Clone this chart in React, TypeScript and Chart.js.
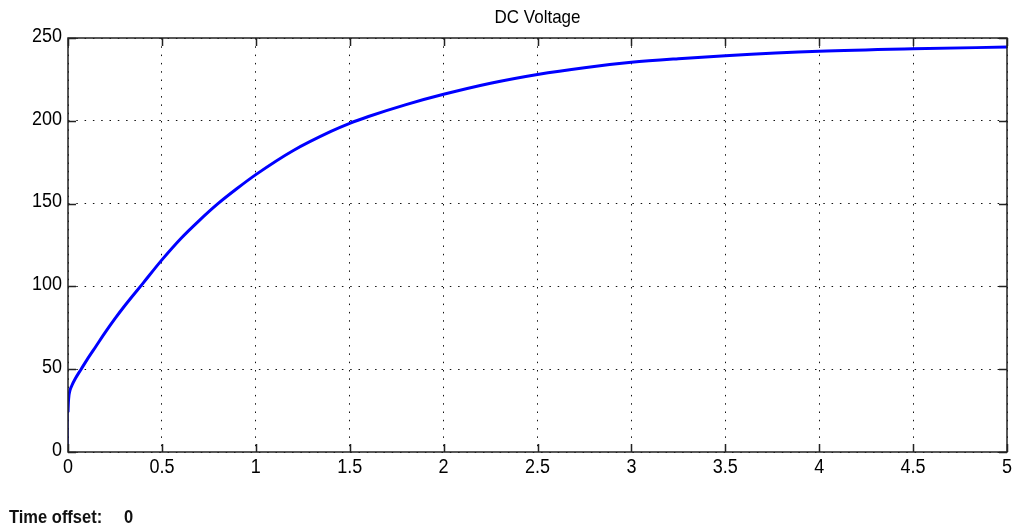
import React, { useEffect, useRef } from "react";
import { Chart, registerables } from "chart.js";

Chart.register(...registerables);

const chartTitle = "DC Voltage";
const footerLabel = "Time offset:";
const footerValue = "0";

const xTicks = [0, 0.5, 1, 1.5, 2, 2.5, 3, 3.5, 4, 4.5, 5];
const xTickLabels = ["0", "0.5", "1", "1.5", "2", "2.5", "3", "3.5", "4", "4.5", "5"];
const yTicks = [0, 50, 100, 150, 200, 250];
const yTickLabels = ["0", "50", "100", "150", "200", "250"];

// initial jump at t = 0
const jumpTime = [0, 0];
const jumpVoltage = [0, 24];

// main charging curve
const time = [0, 0.002, 0.005, 0.01, 0.02, 0.04, 0.07, 0.1, 0.15, 0.2, 0.25, 0.3, 0.4, 0.5, 0.6, 0.7, 0.8, 0.9, 1.0, 1.2, 1.4, 1.5, 1.6, 1.8, 2.0, 2.25, 2.5, 2.75, 3.0, 3.25, 3.5, 4.0, 4.5, 5.0];
const voltage = [24, 30, 34, 37, 40, 44.5, 50, 55.5, 64, 72.5, 80.5, 88, 102, 116, 128.8, 139.9, 150.1, 159.1, 167.5, 182.1, 193.6, 198.5, 202.6, 209.8, 216, 222.7, 228, 232.1, 235.3, 237.5, 239.3, 242, 243.5, 244.5];

const FONT = "Arial, 'Liberation Sans', sans-serif";

function drawText(ctx: any, text: string, x: number, y: number, align: string, font: string, sy: number) {
  ctx.save();
  ctx.translate(x, y);
  ctx.scale(1, sy);
  ctx.font = font;
  ctx.textAlign = align;
  ctx.textBaseline = "middle";
  ctx.fillText(text, 0, 0);
  ctx.restore();
}

const framePlugin = {
  id: "frame",
  afterDraw(chart: any) {
    const { ctx, chartArea: a, scales } = chart;
    ctx.save();
    ctx.strokeStyle = "#222";
    ctx.lineWidth = 1.5;
    ctx.strokeRect(a.left, a.top, a.right - a.left, a.bottom - a.top);
    const tl = 8;
    ctx.beginPath();
    for (const v of xTicks) {
      const x = Math.round(scales.x.getPixelForValue(v)) + 0.5;
      ctx.moveTo(x, a.bottom);
      ctx.lineTo(x, a.bottom - tl);
      ctx.moveTo(x, a.top);
      ctx.lineTo(x, a.top + tl);
    }
    for (const v of yTicks) {
      const y = Math.round(scales.y.getPixelForValue(v)) + 0.5;
      ctx.moveTo(a.left, y);
      ctx.lineTo(a.left + tl, y);
      ctx.moveTo(a.right, y);
      ctx.lineTo(a.right - tl, y);
    }
    ctx.stroke();
    ctx.fillStyle = "#000";
    const tickFont = `18px ${FONT}`;
    xTicks.forEach((v, i) => {
      drawText(ctx, xTickLabels[i], scales.x.getPixelForValue(v), a.bottom + 15.5, "center", tickFont, 1.08);
    });
    yTicks.forEach((v, i) => {
      drawText(ctx, yTickLabels[i], a.left - 6, scales.y.getPixelForValue(v) - 1.5, "right", tickFont, 1.08);
    });
    drawText(ctx, chartTitle, (a.left + a.right) / 2, 18, "center", `17px ${FONT}`, 1.08);
    ctx.fillStyle = "#111";
    drawText(ctx, footerLabel, 9, 518, "left", `bold 16.5px ${FONT}`, 1.1);
    drawText(ctx, footerValue, 124, 518, "left", `bold 16.5px ${FONT}`, 1.1);
    ctx.restore();
  },
};

export default function App() {
  const ref = useRef<HTMLCanvasElement | null>(null);
  useEffect(() => {
    if (!ref.current) return;
    const chart = new Chart(ref.current, {
      type: "line",
      data: {
        datasets: [
          {
            data: jumpTime.map((t, i) => ({ x: t, y: jumpVoltage[i] })),
            borderColor: "#0000ff",
            borderWidth: 1.5,
            pointRadius: 0,
          },
          {
            data: time.map((t, i) => ({ x: t, y: voltage[i] })),
            borderColor: "#0000ff",
            borderWidth: 3,
            pointRadius: 0,
            cubicInterpolationMode: "monotone",
          },
        ],
      },
      options: {
        animation: false,
        responsive: false,
        devicePixelRatio: 1,
        layout: { padding: { top: 38, right: 11, left: 0, bottom: 0 } },
        plugins: { legend: { display: false }, title: { display: false }, tooltip: { enabled: false } },
        scales: {
          x: {
            type: "linear",
            min: 0,
            max: 5,
            afterFit: (s: any) => { s.height = 77; },
            afterBuildTicks: (s: any) => { s.ticks = xTicks.map((v) => ({ value: v })); },
            ticks: { display: false },
            grid: { color: "#111", lineWidth: 1, drawTicks: false, tickLength: 0 },
            border: { display: false, dash: [1.5, 6.8] },
          },
          y: {
            type: "linear",
            min: 0,
            max: 250,
            afterFit: (s: any) => { s.width = 68; },
            afterBuildTicks: (s: any) => { s.ticks = yTicks.map((v) => ({ value: v })); },
            ticks: { display: false },
            grid: { color: "#111", lineWidth: 1, drawTicks: false, tickLength: 0 },
            border: { display: false, dash: [1.5, 6.8] },
          },
        },
      },
      plugins: [framePlugin],
    });
    return () => chart.destroy();
  }, []);
  return (
    <div style={{ position: "fixed", left: 0, top: 0, width: 1018, height: 529, background: "#fff" }}>
      <canvas ref={ref} width={1018} height={529} style={{ width: 1018, height: 529, display: "block" }} />
    </div>
  );
}
